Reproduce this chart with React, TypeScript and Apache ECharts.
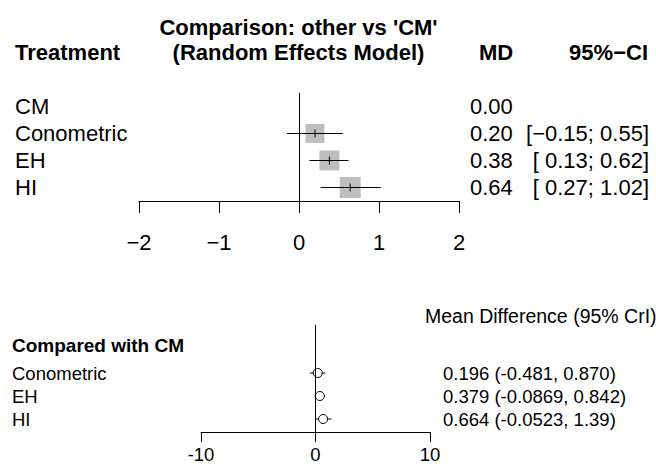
import React, { useEffect, useRef } from "react";
import * as echarts from "echarts";

// ---------- data ----------
const topTreatments = ["CM", "Conometric", "EH", "HI"];
const topMD = [0.0, 0.2, 0.38, 0.64];
const topLower: (number | null)[] = [null, -0.15, 0.13, 0.27];
const topUpper: (number | null)[] = [null, 0.55, 0.62, 1.02];
const topWeights = [0, 0.9, 0.95, 1.0]; // relative box size
const topTicks = [-2, -1, 0, 1, 2];

const botTreatments = ["Conometric", "EH", "HI"];
const botMean = [0.196, 0.379, 0.664];
const botLower = [-0.481, -0.0869, -0.0523];
const botUpper = [0.87, 0.842, 1.39];
const botTicks = [-10, 0, 10];

// ---------- layout / style ----------
const FONT = '"Liberation Sans", Arial, sans-serif';
const TOP_FS = 22;
const BOT_FS = 18.5;
const BOX_MAX = 21;
const TOP_GRID = { left: 139, right: 656 - 459, top: 93, height: 108 };
const BOT_GRID = { left: 201, right: 656 - 430, top: 325, height: 107 };
const BOT_ROW0 = 373;
const BOT_ROW_STEP = 23;
const BOT_LABEL_X = 12;
const BOT_VALUE_X = 443;

const minus = (s: string) => s.replace("-", "\u2212");
const fmtTick = (v: number) => (v < 0 ? "\u2212" + Math.abs(v) : String(v));
const fmtCI = (lo: number, hi: number) => {
  const l = lo < 0 ? minus(lo.toFixed(2)) : " " + lo.toFixed(2);
  return `[${l}; ${hi.toFixed(2)}]`;
};
const fmtCrI = (m: number, lo: number, hi: number) =>
  `${m.toPrecision(3)} (${lo.toPrecision(3)}, ${hi.toPrecision(3)})`;

const txt = (
  text: string,
  x: number,
  y: number,
  align: string,
  fontSize: number,
  bold = false
) => ({
  type: "text",
  x,
  y,
  silent: true,
  style: {
    text,
    fill: "#000",
    fontSize,
    fontFamily: FONT,
    fontWeight: bold ? "bold" : "normal",
    align,
    verticalAlign: "middle",
  },
});

export default function App() {
  const ref = useRef<HTMLDivElement>(null);

  useEffect(() => {
    if (!ref.current) return;
    const chart = echarts.init(ref.current, undefined, { renderer: "svg" });

    const botMin = -(BOT_ROW0 - BOT_GRID.top) / BOT_ROW_STEP;
    const botMax =
      botTreatments.length -
      1 +
      (BOT_GRID.top + BOT_GRID.height - (BOT_ROW0 + BOT_ROW_STEP * (botTreatments.length - 1))) /
        BOT_ROW_STEP;

    const axisLineStyle = { color: "#000", width: 1 };

    const option: any = {
      animation: false,
      backgroundColor: "#fff",
      grid: [
        { ...TOP_GRID, containLabel: false },
        { ...BOT_GRID, containLabel: false },
      ],
      xAxis: [
        {
          gridIndex: 0,
          type: "value",
          min: topTicks[0],
          max: topTicks[topTicks.length - 1],
          interval: topTicks[1] - topTicks[0],
          position: "bottom",
          axisLine: { show: true, onZero: false, lineStyle: axisLineStyle },
          axisTick: { show: true, length: 12, lineStyle: axisLineStyle },
          axisLabel: {
            margin: 30,
            fontSize: TOP_FS,
            fontFamily: FONT,
            color: "#000",
            formatter: (v: number) => fmtTick(v),
          },
          splitLine: { show: false },
        },
        {
          gridIndex: 1,
          type: "value",
          min: botTicks[0],
          max: botTicks[botTicks.length - 1],
          interval: botTicks[1] - botTicks[0],
          position: "bottom",
          axisLine: { show: true, onZero: false, lineStyle: axisLineStyle },
          axisTick: { show: true, length: 10, lineStyle: axisLineStyle },
          axisLabel: {
            margin: 13,
            fontSize: BOT_FS,
            fontFamily: FONT,
            color: "#000",
          },
          splitLine: { show: false },
        },
      ],
      yAxis: [
        {
          gridIndex: 0,
          type: "category",
          data: topTreatments,
          inverse: true,
          position: "left",
          axisLine: { show: false },
          axisTick: { show: false },
          axisLabel: {
            interval: 0,
            margin: TOP_GRID.left - 15,
            align: "left",
            fontSize: TOP_FS,
            fontFamily: FONT,
            color: "#000",
          },
        },
        {
          gridIndex: 0,
          type: "category",
          data: topTreatments,
          inverse: true,
          position: "right",
          axisLine: { show: false },
          axisTick: { show: false },
          axisLabel: {
            interval: 0,
            margin: 11,
            align: "left",
            fontSize: TOP_FS,
            fontFamily: FONT,
            color: "#000",
            formatter: (_v: string, i: number) => topMD[i].toFixed(2),
          },
        },
        {
          gridIndex: 0,
          type: "category",
          data: topTreatments,
          inverse: true,
          position: "right",
          axisLine: { show: false },
          axisTick: { show: false },
          axisLabel: {
            interval: 0,
            margin: 190,
            align: "right",
            fontSize: TOP_FS,
            fontFamily: FONT,
            color: "#000",
            formatter: (_v: string, i: number) =>
              topLower[i] == null ? "" : fmtCI(topLower[i] as number, topUpper[i] as number),
          },
        },
        {
          gridIndex: 1,
          type: "value",
          min: botMin,
          max: botMax,
          inverse: true,
          show: false,
          splitLine: { show: false },
        },
      ],
      series: [
        {
          type: "custom",
          xAxisIndex: 0,
          yAxisIndex: 0,
          silent: true,
          clip: false,
          data: topTreatments
            .map((_t, i) => [topMD[i], i, topLower[i], topUpper[i], topWeights[i]])
            .filter((d) => d[2] != null),
          renderItem: (_p: any, api: any) => {
            const x = api.value(0);
            const y = api.value(1);
            const c = api.coord([x, y]);
            const l = api.coord([api.value(2), y]);
            const h = api.coord([api.value(3), y]);
            const s = api.value(4) * BOX_MAX;
            return {
              type: "group",
              children: [
                {
                  type: "rect",
                  shape: { x: c[0] - s / 2, y: c[1] - s / 2, width: s, height: s },
                  style: { fill: "#bebebe" },
                },
                {
                  type: "line",
                  shape: { x1: l[0], y1: c[1], x2: h[0], y2: c[1] },
                  style: { stroke: "#000", lineWidth: 1 },
                },
                {
                  type: "line",
                  shape: { x1: c[0], y1: c[1] - 4, x2: c[0], y2: c[1] + 4 },
                  style: { stroke: "#000", lineWidth: 1 },
                },
              ],
            };
          },
          markLine: {
            silent: true,
            symbol: "none",
            label: { show: false },
            lineStyle: { color: "#000", width: 1, type: "solid" },
            data: [{ xAxis: 0 }],
          },
        },
        {
          type: "custom",
          xAxisIndex: 1,
          yAxisIndex: 3,
          silent: true,
          clip: false,
          data: botTreatments.map((_t, i) => [botMean[i], i, botLower[i], botUpper[i]]),
          renderItem: (p: any, api: any) => {
            const i = p.dataIndex;
            const x = api.value(0);
            const y = api.value(1);
            const c = api.coord([x, y]);
            const l = api.coord([api.value(2), y]);
            const h = api.coord([api.value(3), y]);
            return {
              type: "group",
              children: [
                {
                  type: "line",
                  shape: { x1: l[0], y1: c[1], x2: h[0], y2: c[1] },
                  style: { stroke: "#000", lineWidth: 1 },
                },
                {
                  type: "circle",
                  shape: { cx: c[0], cy: c[1], r: 4.5 },
                  style: { fill: "#fff", stroke: "#000", lineWidth: 1 },
                },
                txt(botTreatments[i], BOT_LABEL_X, c[1], "left", BOT_FS),
                txt(
                  fmtCrI(botMean[i], botLower[i], botUpper[i]),
                  BOT_VALUE_X,
                  c[1],
                  "left",
                  BOT_FS
                ),
              ],
            };
          },
          markLine: {
            silent: true,
            symbol: "none",
            label: { show: false },
            lineStyle: { color: "#000", width: 1, type: "solid" },
            data: [{ xAxis: 0 }],
          },
        },
      ],
      graphic: [
        txt("Comparison: other vs 'CM'", 298.5, 27, "center", TOP_FS, true),
        txt("Treatment", 15, 52, "left", TOP_FS, true),
        txt("(Random Effects Model)", 298.5, 52, "center", TOP_FS, true),
        txt("MD", 496, 52, "center", TOP_FS, true),
        txt("95%\u2212CI", 648, 52, "right", TOP_FS, true),
        txt("Compared with CM", 12, 345, "left", 19, true),
        txt("Mean Difference (95% CrI)", 425, 316, "left", 19.5),
      ],
    };

    chart.setOption(option);
    return () => chart.dispose();
  }, []);

  return (
    <div
      ref={ref}
      style={{ position: "absolute", left: 0, top: 0, width: 656, height: 464 }}
    />
  );
}
